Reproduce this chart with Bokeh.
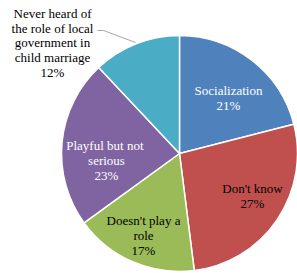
import math
from bokeh.plotting import figure
from bokeh.embed import file_html
from bokeh.resources import INLINE
from bokeh.core.properties import value

# ---- data ----
categories = ["Socialization", "Don't know", "Doesn't play a\nrole",
              "Playful  but not\nserious",
              "Never heard of\nthe role of local\ngovernment in\nchild marriage"]
percents = [21, 27, 17, 23, 12]
colors = ["#4F81BD", "#C0504D", "#9BBB59", "#8064A2", "#4BACC6"]
label_colors = ["white", "black", "black", "white", "black"]

# ---- layout (picture pixel coordinates) ----
W, H = 297, 273
cx_pg, cy_pg, R = 179, 153, 118
label_pos_pg = [(228, 97.5), (252, 195.5), (143, 235), (106, 160), (52, 42.5)]

def to_data(xp, yp):
    return xp, H - yp

p = figure(width=W, height=H, x_range=(0, W), y_range=(0, H),
           output_backend="svg", toolbar_location=None,
           min_border=0, background_fill_color="white",
           border_fill_color="white")
p.axis.visible = False
p.grid.visible = False
p.outline_line_color = None

cx, cy = to_data(cx_pg, cy_pg)
total = sum(percents)
cum = 0
starts, ends = [], []
for v in percents:
    a0 = math.pi / 2 - 2 * math.pi * cum / total
    cum += v
    a1 = math.pi / 2 - 2 * math.pi * cum / total
    starts.append(a1)
    ends.append(a0)

p.wedge(x=[cx] * len(percents), y=[cy] * len(percents), radius=R,
        start_angle=starts, end_angle=ends,
        fill_color=colors, line_color="white", line_width=1.5)

# leader line for the outside label
lx, ly = zip(*[to_data(97, 30), to_data(103, 30), to_data(135, 42)])
p.line(list(lx), list(ly), line_color="#A6A6A6", line_width=1)

for cat, pct, (xp, yp), col in zip(categories, percents, label_pos_pg, label_colors):
    x, y = to_data(xp, yp)
    p.text(x=[x], y=[y], text=[f"{cat}\n{pct}%"],
           text_font=value("serif"), text_font_size="13px",
           text_color=col, text_align="center", text_baseline="middle",
           text_line_height=0.98)

open("out.html", "w").write(file_html(p, INLINE))
